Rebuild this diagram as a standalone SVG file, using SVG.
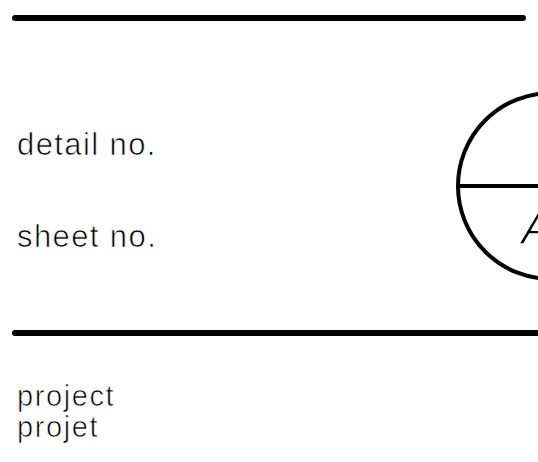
<svg xmlns="http://www.w3.org/2000/svg" width="538" height="462" viewBox="0 0 538 462">
<style>
.t{font-family:"Liberation Sans",Arial,sans-serif;fill:#000;stroke:#fff;stroke-width:0.7px}
.big{font-size:31px;letter-spacing:1.4px}
.sm{font-size:29px;letter-spacing:1.6px}
.rule{stroke:#000;stroke-width:6;stroke-linecap:round}
</style>
<rect width="538" height="462" fill="#fff"/>
<g id="rules">
<line class="rule" x1="15" y1="18" x2="523" y2="18"/>
<line class="rule" x1="15" y1="333" x2="545" y2="333"/>
</g>
<g id="labels">
<text class="t big" x="17" y="155">detail no.</text>
<text class="t big" x="17" y="247">sheet no.</text>
<text class="t sm" x="17" y="406">project</text>
<text class="t sm" x="17" y="437">projet</text>
</g>
<g id="bubble">
<circle cx="551" cy="186" r="93" fill="none" stroke="#000" stroke-width="4"/>
<line x1="458" y1="186" x2="545" y2="186" stroke="#000" stroke-width="4"/>
<text x="538" y="244" font-family="Liberation Sans,Arial,sans-serif" font-size="50" text-anchor="middle" font-style="italic" fill="#000" stroke="#fff" stroke-width="1.5">A</text>
</g>
</svg>
